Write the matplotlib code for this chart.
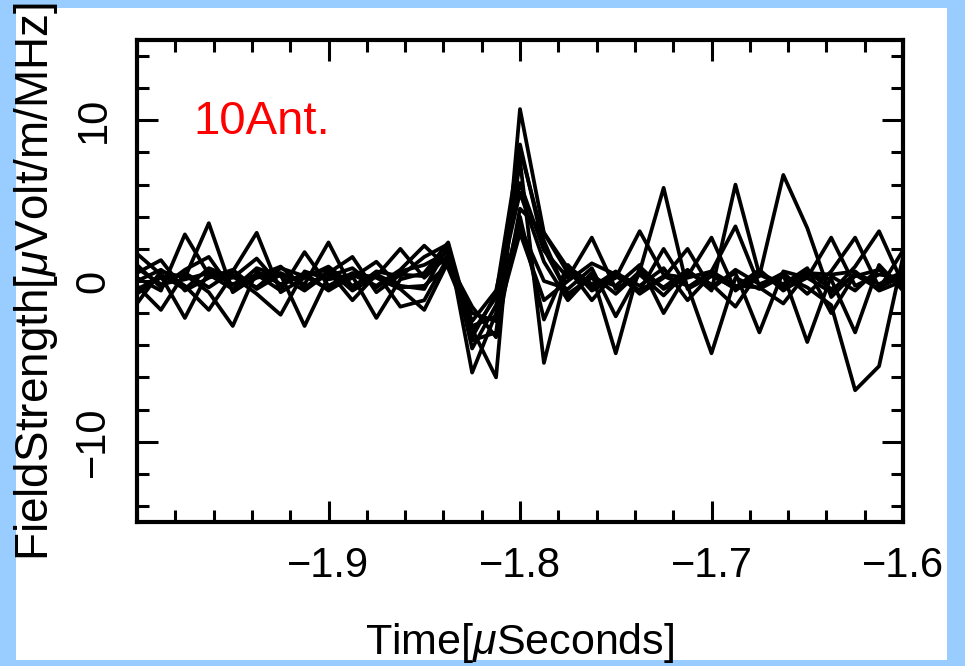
import matplotlib
matplotlib.use("Agg")
import matplotlib.pyplot as plt
from matplotlib.patches import Rectangle
from matplotlib.ticker import MultipleLocator

plt.rcParams['font.family'] = ['Liberation Sans', 'DejaVu Sans']
plt.rcParams['mathtext.fontset'] = 'custom'
plt.rcParams['mathtext.rm'] = 'Liberation Sans'
plt.rcParams['mathtext.it'] = 'Liberation Sans:italic'

# sample times (12.5 ns sampling), microseconds
times = [-2.0, -1.9875, -1.975, -1.9625, -1.95, -1.9375, -1.925, -1.9125,
         -1.9, -1.8875, -1.875, -1.8625, -1.85, -1.8375, -1.825, -1.8125,
         -1.8, -1.7875, -1.775, -1.7625, -1.75, -1.7375, -1.725, -1.7125,
         -1.7, -1.6875, -1.675, -1.6625, -1.65, -1.6375, -1.625, -1.6125, -1.6]

# field strength per antenna, uV/m/MHz
ant1 = [1.7, 0.4, -0.5, 0.8, 0.2, 1.4, -0.3, 0.5, -0.6, 0.3, -2.3, 0.1, 0.5, 2.4, -3.0, -6.0, 10.7,
        3.0, 0.5, -0.4, 0.6, -0.8, 0.2, 2.0, -0.5, 0.7, -0.2, 0.4, -3.8, 0.3, -0.6, 0.8, -0.3]
ant2 = [-1.4, 0.6, 0.2, 3.6, -0.7, 0.3, 0.9, -0.4, 0.6, -1.2, 0.4, -0.3, -0.5, 2.2, -5.7, -2.0, 8.2,
        2.5, -1.0, 0.5, -4.5, 0.9, -0.5, 0.3, 2.7, -0.6, 0.5, -0.2, 0.8, -2.0, 0.4, -0.5, 1.9]
ant3 = [0.5, 1.3, -0.6, 0.2, 0.7, -0.5, 0.4, -2.8, 0.3, 0.8, -0.4, 0.6, 1.0, 1.8, -3.7, -3.2, 7.5,
        -5.1, 0.9, -0.2, 0.3, -0.6, 2.0, -0.4, 0.6, 3.4, -0.3, 0.5, -0.8, 0.6, 2.7, -0.4, 0.3]
ant4 = [-0.3, -1.8, 0.5, -0.4, 0.6, 3.0, -0.7, 0.2, 0.9, -0.3, 0.5, -1.6, -1.2, 1.5, -2.5, -0.6, 6.1,
        1.9, 0.2, 2.7, -0.5, 0.4, -0.9, 0.6, -0.3, 0.5, -3.2, 0.6, 0.2, -0.7, 0.9, 3.1, -0.2]
ant5 = [0.2, -0.6, 2.9, 0.4, -0.5, 0.8, 0.3, -0.6, 0.5, 1.5, -0.7, 0.4, 0.3, 2.0, -3.2, -1.0, 5.5,
        1.2, -1.2, 0.4, -0.8, 0.6, 5.8, -0.5, 0.3, -0.4, 0.7, -0.6, 0.4, 0.1, -3.2, 1.0, -0.6]
ant6 = [-0.8, 0.3, -2.3, 0.6, -0.2, 0.4, -0.6, 1.8, -0.3, 0.5, 0.2, -0.5, -1.8, 1.2, -1.6, -3.5, 4.5,
        3.0, 0.8, -1.2, 0.5, -0.3, 0.8, -1.2, 0.4, -0.5, 0.3, 6.6, 3.3, -1.0, 0.5, -0.2, 0.6]
ant7 = [1.0, -0.4, 0.7, 1.5, -0.6, 0.2, 0.5, -0.2, 2.4, -0.5, 0.6, 0.3, 1.5, 2.3, -4.2, -1.5, 3.4,
        0.0, -0.5, 0.8, -2.2, 0.5, -0.4, 0.7, -0.6, 6.0, 0.4, -0.3, 0.6, -0.5, 0.3, 0.7, -0.4]
ant8 = [0.0, 0.7, -0.3, -1.8, 0.4, -0.4, 0.8, 0.3, -0.5, 0.2, 1.2, -0.4, -0.3, 1.0, -2.0, -2.5, 3.0,
        -1.2, 0.0, 1.1, 0.4, -0.6, 0.3, -0.3, -4.5, 0.2, -0.5, 0.3, -0.4, -1.5, -6.8, -5.3, 1.5]
ant9 = [-0.5, 0.2, 0.4, -0.7, -2.8, 0.6, -0.2, 0.4, 0.7, -0.6, 0.3, 2.0, 0.2, 1.6, -3.5, -0.8, 8.5,
        2.0, -0.8, 0.2, -0.3, 1.0, -2.0, 0.5, -0.2, -1.6, 0.6, -0.5, 0.2, 2.7, -0.3, 0.4, 0.2]
ant10 = [0.8, -0.2, 0.1, 0.5, 0.3, -0.8, -2.1, 0.6, 0.1, 0.4, -0.3, 0.7, 2.2, 0.8, -2.8, -2.2, 4.0,
         -2.4, 1.0, -0.6, 0.2, 3.1, 0.4, 0.2, 0.6, -0.3, -0.4, -1.4, 0.5, 0.4, 0.6, -0.6, 0.0]

antennas = [ant1, ant2, ant3, ant4, ant5, ant6, ant7, ant8, ant9, ant10]

fig = plt.figure(figsize=(9.65, 6.66), dpi=100, facecolor='#99ccff')

# white slide panel inside the blue frame
fig.patches.append(Rectangle((16 / 965, 6 / 666), 931 / 965, 652 / 666,
                             transform=fig.transFigure, facecolor='white',
                             edgecolor='none', zorder=-10))

ax = fig.add_axes([137 / 965, 144 / 666, 766 / 965, 482 / 666])
ax.set_facecolor('white')

for a in antennas:
    ax.plot(times, a, color='black', lw=2.7, solid_joinstyle='round')

ax.set_xlim(-2.0, -1.6)
ax.set_ylim(-15, 15)

ax.xaxis.set_major_locator(MultipleLocator(0.1))
ax.xaxis.set_minor_locator(MultipleLocator(0.02))
ax.yaxis.set_major_locator(MultipleLocator(10))
ax.yaxis.set_minor_locator(MultipleLocator(2))

ax.tick_params(which='both', direction='in', top=True, right=True, width=2.2, color='black')
ax.tick_params(which='major', length=15, labelsize=30, pad=17)
ax.tick_params(which='minor', length=8.5)
ax.tick_params(axis='y', labelrotation=90)

ax.set_xticks([-1.9, -1.8, -1.7, -1.6])
ax.set_xticklabels(['\u22121.9', '\u22121.8', '\u22121.7', '\u22121.6'])
ax.set_yticks([-10, 0, 10])
ax.set_yticklabels(['\u221210', '0', '10'], va='center')

for s in ax.spines.values():
    s.set_linewidth(3)

ax.set_xlabel(r'Time[$\mu$Seconds]', fontsize=31)
ax.xaxis.set_label_coords(0.5, -0.205)
ax.xaxis.label.set_va('top')
ax.set_ylabel(r'FieldStrength[$\mu$Volt/m/MHz]', fontsize=33)
ax.yaxis.set_label_coords(-0.10, 0.5)

ax.text(0.073, 0.83, '10Ant.', transform=ax.transAxes, color='red',
        fontsize=34, ha='left', va='center')

fig.savefig('out.png', dpi=100, facecolor=fig.get_facecolor())
